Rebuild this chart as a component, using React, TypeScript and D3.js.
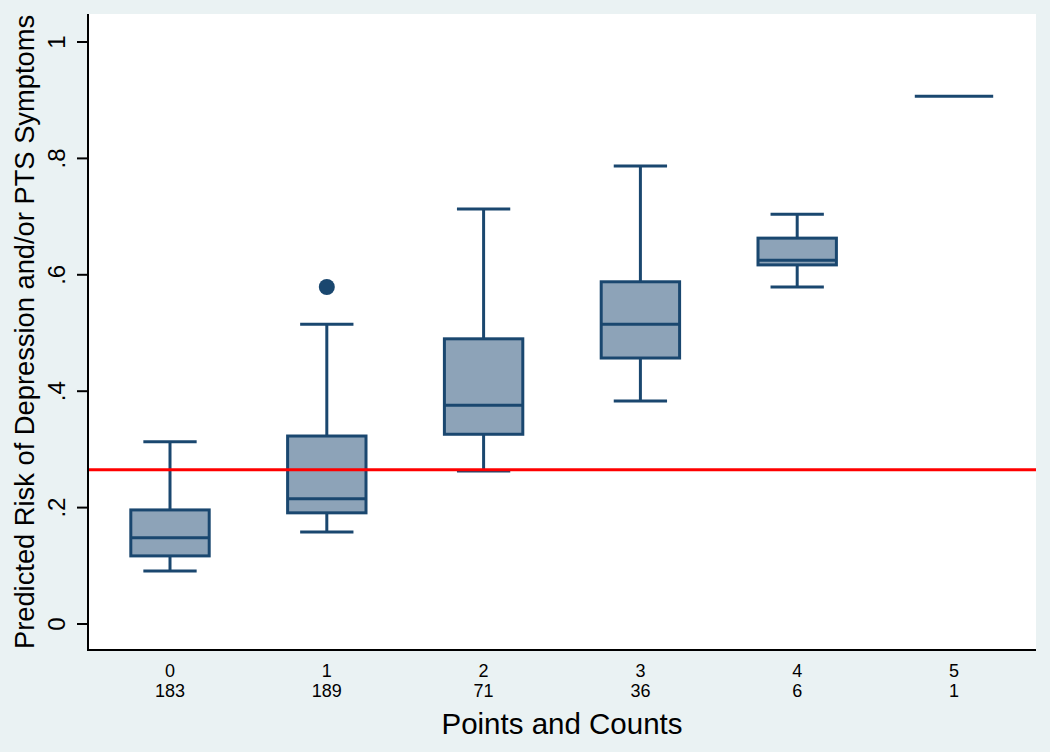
import React from "react";
import * as d3 from "d3";

const categories = ["0", "1", "2", "3", "4", "5"];
const counts = ["183", "189", "71", "36", "6", "1"];
const lowerWhisker = [0.091, 0.158, 0.263, 0.383, 0.579, 0.907];
const q1 = [0.117, 0.191, 0.326, 0.457, 0.617, 0.907];
const median = [0.148, 0.215, 0.376, 0.515, 0.625, 0.907];
const q3 = [0.196, 0.323, 0.490, 0.588, 0.663, 0.907];
const upperWhisker = [0.313, 0.515, 0.713, 0.787, 0.704, 0.907];
const outliers = [{ cat: "1", value: 0.579 }];
const referenceLine = 0.265;
const yTicks = [0, 0.2, 0.4, 0.6, 0.8, 1];
const yTickLabels = ["0", ".2", ".4", ".6", ".8", "1"];

const W = 1050;
const H = 752;
const plot = { left: 88, right: 1036, top: 14, bottom: 650 };
const navy = "#1A476F";
const fill = "#8DA3B8";
const bg = "#EAF2F3";
const font = "'Liberation Sans', Arial, Helvetica, sans-serif";

export default function App() {
  const x = d3.scalePoint<string>().domain(categories).range([plot.left, plot.right]).padding(0.523);
  const y = d3.scaleLinear().domain([0, 1]).range([624, 42]);
  const boxW = x.step() * 0.5;
  const capW = x.step() * 0.34;

  return (
    <svg width={W} height={H} style={{ position: "absolute", left: 0, top: 0 }}>
      <rect x={0} y={0} width={W} height={H} fill={bg} />
      <rect x={plot.left} y={plot.top} width={plot.right - plot.left} height={plot.bottom - plot.top} fill="#FFFFFF" />
      {categories.map((c, i) => {
        const cx = x(c)!;
        const single = q1[i] === q3[i];
        if (single) {
          return (
            <line key={c} x1={cx - boxW / 2} x2={cx + boxW / 2} y1={y(median[i])} y2={y(median[i])} stroke={navy} strokeWidth={3} />
          );
        }
        return (
          <g key={c}>
            <line x1={cx} x2={cx} y1={y(upperWhisker[i])} y2={y(q3[i])} stroke={navy} strokeWidth={3} />
            <line x1={cx} x2={cx} y1={y(q1[i])} y2={y(lowerWhisker[i])} stroke={navy} strokeWidth={3} />
            <line x1={cx - capW / 2} x2={cx + capW / 2} y1={y(upperWhisker[i])} y2={y(upperWhisker[i])} stroke={navy} strokeWidth={3} />
            <line x1={cx - capW / 2} x2={cx + capW / 2} y1={y(lowerWhisker[i])} y2={y(lowerWhisker[i])} stroke={navy} strokeWidth={3} />
            <rect x={cx - boxW / 2} y={y(q3[i])} width={boxW} height={y(q1[i]) - y(q3[i])} fill={fill} stroke={navy} strokeWidth={3} />
            <line x1={cx - boxW / 2} x2={cx + boxW / 2} y1={y(median[i])} y2={y(median[i])} stroke={navy} strokeWidth={3} />
          </g>
        );
      })}
      {outliers.map((o, i) => (
        <circle key={i} cx={x(o.cat)!} cy={y(o.value)} r={8} fill={navy} />
      ))}
      <line x1={plot.left} x2={plot.right} y1={y(referenceLine)} y2={y(referenceLine)} stroke="#FF0000" strokeWidth={3} />
      <line x1={plot.left} x2={plot.left} y1={plot.top} y2={plot.bottom + 1} stroke="#000" strokeWidth={2} />
      <line x1={plot.left - 1} x2={plot.right} y1={plot.bottom} y2={plot.bottom} stroke="#000" strokeWidth={2} />
      {yTicks.map((t, i) => (
        <g key={t}>
          <line x1={plot.left - 11} x2={plot.left} y1={y(t)} y2={y(t)} stroke="#000" strokeWidth={2} />
          <text
            transform={`translate(65,${y(t)}) rotate(-90)`}
            textAnchor="middle"
            fontFamily={font}
            fontSize={24}
            fill="#000"
          >
            {yTickLabels[i]}
          </text>
        </g>
      ))}
      {categories.map((c, i) => (
        <g key={c}>
          <text x={x(c)!} y={677} textAnchor="middle" fontFamily={font} fontSize={18} fill="#000">{c}</text>
          <text x={x(c)!} y={697} textAnchor="middle" fontFamily={font} fontSize={18} fill="#000">{counts[i]}</text>
        </g>
      ))}
      <text x={(plot.left + plot.right) / 2} y={734} textAnchor="middle" fontFamily={font} fontSize={29.5} fill="#000">
        Points and Counts
      </text>
      <text
        transform={`translate(34,${(plot.top + plot.bottom) / 2}) rotate(-90)`}
        textAnchor="middle"
        fontFamily={font}
        fontSize={27.3}
        fill="#000"
      >
        Predicted Risk of Depression and/or PTS Symptoms
      </text>
    </svg>
  );
}
